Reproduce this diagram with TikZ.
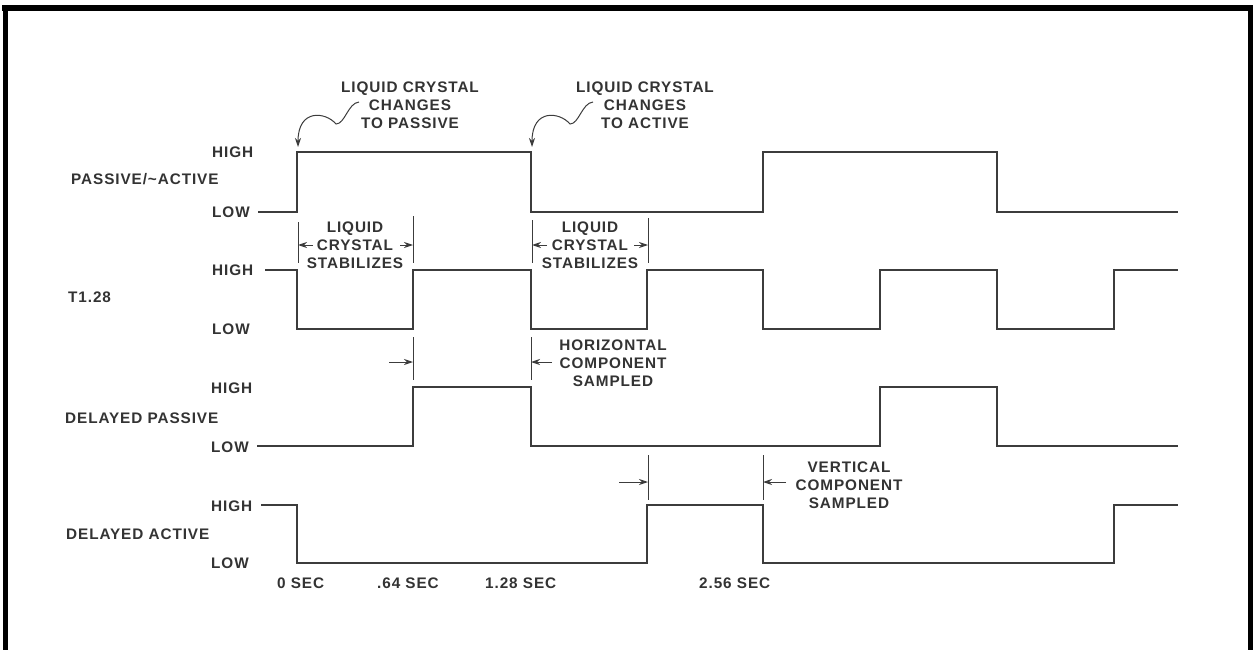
\documentclass[tikz,border=0pt]{standalone}
\usepackage{fontspec}
\newfontfamily\lblfont[LetterSpace=6]{Liberation Sans}
\usetikzlibrary{arrows.meta}
\definecolor{txt}{HTML}{333333}
\definecolor{wave}{HTML}{3C3C3C}
\begin{document}
\begin{tikzpicture}[x=1pt,y=-1pt,
  lbl/.style={font=\lblfont\bfseries\fontsize{15.3}{17.8}\selectfont, text=txt, inner sep=0pt, align=center},
  sig/.style={draw=wave, line width=1.15pt, line join=miter},
  tick/.style={draw=wave, line width=0.8pt},
  dimarrow/.style={draw=wave, line width=1pt, -{Stealth[length=9pt,width=6pt]}},
  curvearrow/.style={draw=wave, line width=1pt, -{Stealth[length=9pt,width=6pt]}}]
\useasboundingbox (0,0) rectangle (1253,650);
% frame
\fill[black] (2,5) rectangle (1253,11);
\fill[black] (3,5) rectangle (8,650);
\fill[black] (1248,5) rectangle (1253,650);

% signal names
\node[lbl, anchor=west] (nPA) at (71,179) {PASSIVE/\textasciitilde ACTIVE};
\node[lbl, anchor=west] (nT)  at (68,297) {T1.28};
\node[lbl, anchor=west] (nDP) at (65,418) {DELAYED PASSIVE};
\node[lbl, anchor=west] (nDA) at (66,534) {DELAYED ACTIVE};
% HIGH / LOW
\node[lbl, anchor=west] (h1) at (212,152) {HIGH};
\node[lbl, anchor=west] (l1) at (212,212) {LOW};
\node[lbl, anchor=west] (h2) at (212,270) {HIGH};
\node[lbl, anchor=west] (l2) at (212,329) {LOW};
\node[lbl, anchor=west] (h3) at (211,388) {HIGH};
\node[lbl, anchor=west] (l3) at (211,447) {LOW};
\node[lbl, anchor=west] (h4) at (211,506) {HIGH};
\node[lbl, anchor=west] (l4) at (211,563) {LOW};

% waveforms
\draw[sig] (258,212) -| (297,152) -| (531,212) -| (763,152) -| (997,212) -- (1178,212);
\draw[sig] (265,270) -| (297,329) -| (413,270) -| (531,329) -| (647,270) -| (763,329) -| (880,270) -| (997,329) -| (1114,270) -- (1178,270);
\draw[sig] (257,446) -| (413,387) -| (531,446) -| (880,387) -| (997,446) -- (1178,446);
\draw[sig] (261,505) -| (297,563) -| (647,505) -| (763,563) -| (1114,505) -- (1178,505);

% time labels
\node[lbl, anchor=west] (t0) at (277,583) {0 SEC};
\node[lbl, anchor=west] (t1) at (377,583) {.64 SEC};
\node[lbl, anchor=west] (t2) at (485,583) {1.28 SEC};
\node[lbl, anchor=west] (t3) at (699,583) {2.56 SEC};

% top annotations
\node[lbl] (ann1) at (410,105) {LIQUID CRYSTAL\\CHANGES\\TO PASSIVE};
\node[lbl] (ann2) at (645,105) {LIQUID CRYSTAL\\CHANGES\\TO ACTIVE};
\coordinate (a1s) at (359,102);
\coordinate (a1e) at (298,147);
\coordinate (a2s) at (593,102);
\coordinate (a2e) at (532,147);
\draw[curvearrow] (a1s) .. controls (348,103) and (345,124) .. (336,124)
                         .. controls (326,112) and (298,108) .. (a1e);
\draw[curvearrow] (a2s) .. controls (582,103) and (579,124) .. (570,124)
                         .. controls (560,112) and (532,108) .. (a2e);

% liquid crystal stabilizes
\coordinate (s1a) at (298,222); \coordinate (s1b) at (298,263);
\coordinate (s1c) at (413,216); \coordinate (s1d) at (413,263);
\draw[tick] (s1a) -- (s1b);
\draw[tick] (s1c) -- (s1d);
\node[lbl] (stab1) at (355,245) {LIQUID\\CRYSTAL\\STABILIZES};
\coordinate (s1l) at (298,245); \coordinate (s1r) at (413,245);
\coordinate (s1lt) at (313,245); \coordinate (s1rt) at (400,245);
\draw[dimarrow] (s1lt) -- (s1l);
\draw[dimarrow] (s1rt) -- (s1r);

\coordinate (s2a) at (532,220); \coordinate (s2b) at (532,263);
\coordinate (s2c) at (648,218); \coordinate (s2d) at (648,263);
\draw[tick] (s2a) -- (s2b);
\draw[tick] (s2c) -- (s2d);
\node[lbl] (stab2) at (590,245) {LIQUID\\CRYSTAL\\STABILIZES};
\coordinate (s2l) at (532,245); \coordinate (s2r) at (648,245);
\coordinate (s2lt) at (547,245); \coordinate (s2rt) at (634,245);
\draw[dimarrow] (s2lt) -- (s2l);
\draw[dimarrow] (s2rt) -- (s2r);

% horizontal component sampled
\coordinate (h1a) at (413,337); \coordinate (h1b) at (413,380);
\coordinate (h2a) at (531,337); \coordinate (h2b) at (531,380);
\draw[tick] (h1a) -- (h1b);
\draw[tick] (h2a) -- (h2b);
\coordinate (hl) at (389,362); \coordinate (hlt) at (413,362);
\coordinate (hr) at (552,362); \coordinate (hrt) at (531,362);
\draw[dimarrow] (hl) -- (hlt);
\draw[dimarrow] (hr) -- (hrt);
\node[lbl] (hcs) at (613,363) {HORIZONTAL\\COMPONENT\\SAMPLED};

% vertical component sampled
\coordinate (v1a) at (648,455); \coordinate (v1b) at (648,500);
\coordinate (v2a) at (763,455); \coordinate (v2b) at (763,500);
\draw[tick] (v1a) -- (v1b);
\draw[tick] (v2a) -- (v2b);
\coordinate (vl) at (619,482); \coordinate (vlt) at (648,482);
\coordinate (vr) at (786,482); \coordinate (vrt) at (763,482);
\draw[dimarrow] (vl) -- (vlt);
\draw[dimarrow] (vr) -- (vrt);
\node[lbl] (vcs) at (849,485) {VERTICAL\\COMPONENT\\SAMPLED};
\end{tikzpicture}
\end{document}
